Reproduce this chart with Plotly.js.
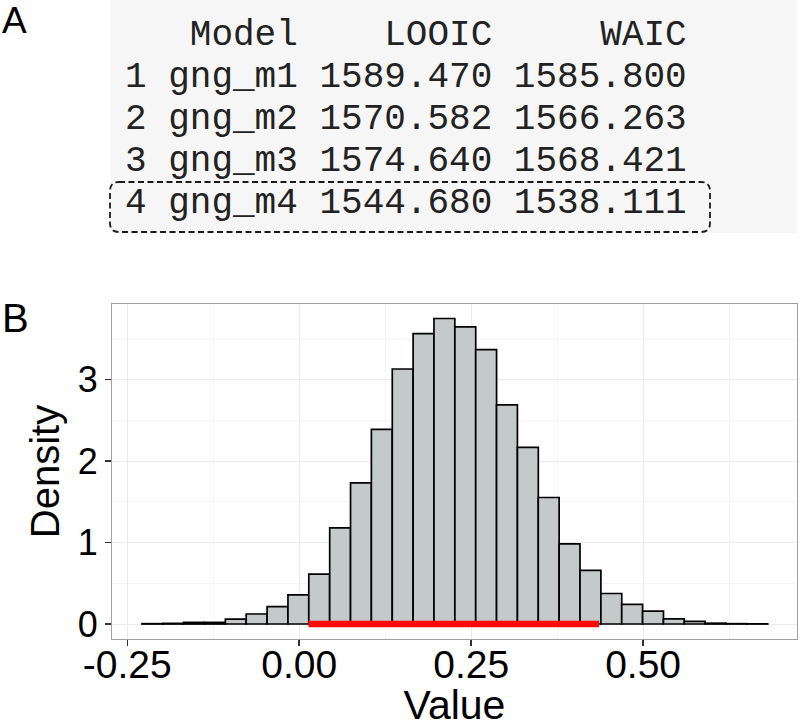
<!DOCTYPE html>
<html>
<head>
<meta charset="utf-8">
<script src="https://cdn.plot.ly/plotly-3.0.1.min.js"></script>
<style>
  html, body { margin: 0; padding: 0; background: #ffffff; }
  #chart { width: 801px; height: 728px; }
</style>
</head>
<body>
<div id="chart"></div>
<script>
// ---------------- data ----------------
// Panel A: model comparison table
const modelNames = ["gng_m1", "gng_m2", "gng_m3", "gng_m4"];
const looicValues = [1589.470, 1570.582, 1574.640, 1544.680];
const waicValues = [1585.800, 1566.263, 1568.421, 1538.111];
const tableHeaders = ["Model", "LOOIC", "WAIC"];
const highlightedRow = 4;

// Panel B: posterior histogram (density), 30 bins
const binCenters = [-0.2135, -0.1832, -0.1529, -0.1225, -0.0922, -0.0619, -0.0315, -0.0012,
  0.0291, 0.0595, 0.0898, 0.1201, 0.1505, 0.1808, 0.2111, 0.2415, 0.2718, 0.3021,
  0.3325, 0.3628, 0.3931, 0.4235, 0.4538, 0.4841, 0.5145, 0.5448, 0.5751, 0.6055,
  0.6358, 0.6661];
const binWidth = 0.03033;
const densityValues = [0.004, 0.008, 0.020, 0.020, 0.060, 0.123, 0.213, 0.357,
  0.613, 1.181, 1.734, 2.390, 3.132, 3.567, 3.752, 3.649, 3.370, 2.690,
  2.169, 1.554, 0.984, 0.658, 0.375, 0.242, 0.158, 0.062, 0.033, 0.010,
  0.004, 0.002];
const intervalX = [0.0135, 0.436];   // highlighted credible interval
const intervalY = [0, 0];

const xTickVals = [-0.25, 0, 0.25, 0.5];
const xTickText = ["-0.25", "0.00", "0.25", "0.50"];
const yTickVals = [0, 1, 2, 3];
const yTickText = ["0", "1", "2", "3"];
const xMinorVals = [-0.375, -0.125, 0.125, 0.375, 0.625];
const yMinorVals = [0.5, 1.5, 2.5, 3.5];

// ---------------- layout helpers ----------------
const W = 801, H = 728;
const plotL = 112, plotR = 797, plotT = 304, plotB = 639;
const PX = px => (px - plotL) / (plotR - plotL);
const PY = py => (plotB - py) / (plotB - plotT);
const NB = "\u00A0";
const sp = s => s.replace(/ /g, NB);

// build table lines (R console style)
const headerLine = " " + " " + tableHeaders[0].padStart(6) + " " +
  tableHeaders[1].padStart(8) + " " + tableHeaders[2].padStart(8);
const rowLines = modelNames.map((m, i) =>
  String(i + 1) + " " + m + " " + looicValues[i].toFixed(3) + " " + waicValues[i].toFixed(3));
const allLines = [headerLine].concat(rowLines);
const baselines = [45.5, 87.7, 130, 172.2, 214.5];

const monoFont = { family: "Liberation Mono, Courier New, monospace", size: 36, color: "#222222" };
const sansFont = "Liberation Sans, Arial, Helvetica, sans-serif";

const annotations = allLines.map((t, i) => ({
  xref: "paper", yref: "paper",
  x: PX(125), y: PY(baselines[i] + 10),
  xanchor: "left", yanchor: "bottom",
  text: sp(t), showarrow: false, borderpad: 0, borderwidth: 0,
  font: monoFont
}));
annotations.push({
  xref: "paper", yref: "paper", x: PX(1), y: PY(42), xanchor: "left", yanchor: "bottom",
  text: "A", showarrow: false, borderpad: 0, font: { family: sansFont, size: 37, color: "#000" }
});
annotations.push({
  xref: "paper", yref: "paper", x: PX(1), y: PY(341), xanchor: "left", yanchor: "bottom",
  text: "B", showarrow: false, borderpad: 0, font: { family: sansFont, size: 40, color: "#000" }
});

// dashed rounded box around highlighted row
const bx0 = 110, bx1 = 710, by0 = 182, by1 = 232, r = 9;
const boxPath =
  `M ${PX(bx0 + r)},${PY(by0)} L ${PX(bx1 - r)},${PY(by0)} Q ${PX(bx1)},${PY(by0)} ${PX(bx1)},${PY(by0 + r)} ` +
  `L ${PX(bx1)},${PY(by1 - r)} Q ${PX(bx1)},${PY(by1)} ${PX(bx1 - r)},${PY(by1)} ` +
  `L ${PX(bx0 + r)},${PY(by1)} Q ${PX(bx0)},${PY(by1)} ${PX(bx0)},${PY(by1 - r)} ` +
  `L ${PX(bx0)},${PY(by0 + r)} Q ${PX(bx0)},${PY(by0)} ${PX(bx0 + r)},${PY(by0)} Z`;

const shapes = [
  { type: "rect", xref: "paper", yref: "paper", layer: "below",
    x0: PX(111), x1: PX(797), y0: PY(233), y1: PY(0),
    fillcolor: "#f6f6f6", line: { width: 0 } },
  { type: "path", xref: "paper", yref: "paper", layer: "above",
    path: boxPath, line: { color: "#1a1a1a", width: 1.8, dash: "6px,3.5px" } }
];

const traces = [
  {
    type: "bar", x: binCenters, y: densityValues, width: binWidth,
    marker: { color: "#c4cac9", line: { color: "#000000", width: 1.7 } },
    hoverinfo: "x+y", showlegend: false
  },
  {
    type: "scatter", mode: "lines", x: intervalX, y: intervalY,
    line: { color: "#ff0a0a", width: 6.5 }, showlegend: false, hoverinfo: "skip"
  }
];

const layout = {
  width: W, height: H,
  margin: { l: plotL, r: W - plotR, t: plotT, b: H - plotB, pad: 0 },
  paper_bgcolor: "#ffffff", plot_bgcolor: "#ffffff",
  bargap: 0,
  showlegend: false,
  font: { family: sansFont, color: "#000" },
  xaxis: {
    range: [-0.2722, 0.7238], tickvals: xTickVals, ticktext: xTickText,
    ticks: "outside", ticklen: 6, tickwidth: 1.5, tickcolor: "#333",
    ticklabelstandoff: -15,
    tickfont: { family: sansFont, size: 39, color: "#000" },
    showgrid: true, gridcolor: "#ebebeb", gridwidth: 1,
    minor: { tickvals: xMinorVals, showgrid: true, gridcolor: "#f5f5f5", gridwidth: 1, ticks: "" },
    zeroline: false, showline: true, mirror: true, linecolor: "#a0a0a0", linewidth: 1,
    title: { text: "Value", font: { family: sansFont, size: 41, color: "#000" }, standoff: 24 },
    automargin: false, fixedrange: true
  },
  yaxis: {
    range: [-0.184, 3.93], tickvals: yTickVals, ticktext: yTickText,
    ticks: "outside", ticklen: 6, tickwidth: 1.5, tickcolor: "#333",
    tickfont: { family: sansFont, size: 36, color: "#000" },
    showgrid: true, gridcolor: "#ebebeb", gridwidth: 1,
    minor: { tickvals: yMinorVals, showgrid: true, gridcolor: "#f5f5f5", gridwidth: 1, ticks: "" },
    zeroline: false, showline: true, mirror: true, linecolor: "#a0a0a0", linewidth: 1,
    title: { text: "Density", font: { family: sansFont, size: 40, color: "#000" }, standoff: 5 },
    automargin: false, fixedrange: true
  },
  annotations: annotations,
  shapes: shapes
};

Plotly.newPlot("chart", traces, layout, { staticPlot: true, displayModeBar: false });
</script>
</body>
</html>
